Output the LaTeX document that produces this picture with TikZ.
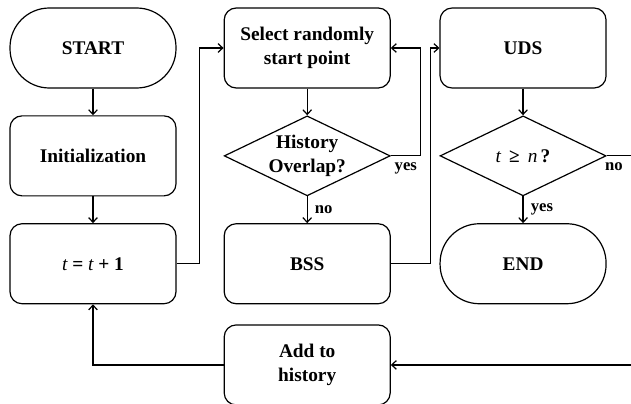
\documentclass[tikz,border=0pt]{standalone}
\usepackage{fontspec}
\setmainfont{Liberation Serif}
\usepackage{tikz}
\usetikzlibrary{arrows.meta, positioning, shapes.geometric}

\newcommand{\var}[1]{{\mdseries\itshape #1}}

\begin{document}
\begin{tikzpicture}[
    node distance=20pt and 35.25pt,
    every node/.style={font=\fontsize{14.5}{18}\selectfont\bfseries},
    box/.style={rectangle, draw, line width=0.9pt, rounded corners=9pt,
                minimum width=124.5pt, minimum height=60pt, align=center},
    term/.style={box, rounded corners=29.5pt},
    decision/.style={diamond, draw, line width=0.9pt, aspect=2, inner sep=-1pt,
                     minimum width=124.5pt, minimum height=60pt, align=center},
    tag/.style={font=\fontsize{12.5}{14}\selectfont\bfseries},
    flow/.style={line width=0.9pt},
    >={Straight Barb[length=3.5pt, width=6.5pt]}
  ]
  % page frame
  \coordinate (nw) at (-69.75pt, 36pt);
  \coordinate (se) at (403.5pt, -266.25pt);
  \useasboundingbox (nw) rectangle (se);

  % first column
  \node[term] (start) {START};
  \node[box, below=of start] (init) {Initialization};
  \node[box, below=of init] (tinc) {\var{t} = \var{t} + 1};

  % second column
  \node[box, right=of start] (pick) {Select randomly\\start point};
  \node[decision, below=of pick] (overlap) {History\\Overlap?};
  \node[box, below=of overlap] (bss) {BSS};
  \node[box, below=15pt of bss] (add) {Add to\\history};

  % third column
  \node[box, right=36.5pt of pick] (uds) {UDS};
  \node[decision, below=of uds] (stop) {\var{t} \,≥\, \var{n}\,?};
  \node[term, below=of stop] (end) {END};

  \coordinate (noout) at (stop.east -| se);
  \coordinate (addin) at (add.east -| se);

  \draw[flow, ->] (start) -- (init);
  \draw[flow, ->] (init) -- (tinc);
  \draw[flow, ->] (tinc.east) -- ++(17pt,0) |- (pick.west);
  \draw[flow, ->] (pick) -- (overlap);
  \draw[flow, ->] (overlap.east) -- node[tag, below=1pt] {yes} ++(22.5pt,0) |- (pick.east);
  \draw[flow, ->] (overlap) -- node[tag, right=2pt] {no} (bss);
  \draw[flow, ->] (bss.east) -- ++(29.5pt,0) |- (uds.west);
  \draw[flow, ->] (uds) -- (stop);
  \draw[flow, ->] (stop) -- node[tag, right=2pt] {yes} (end);
  \draw[flow] (stop.east) -- node[tag, below=1pt, pos=0.3] {no} (noout);
  \draw[flow, ->] (addin) -- (add.east);
  \draw[flow, ->] (add.west) -| (tinc.south);
\end{tikzpicture}
\end{document}
